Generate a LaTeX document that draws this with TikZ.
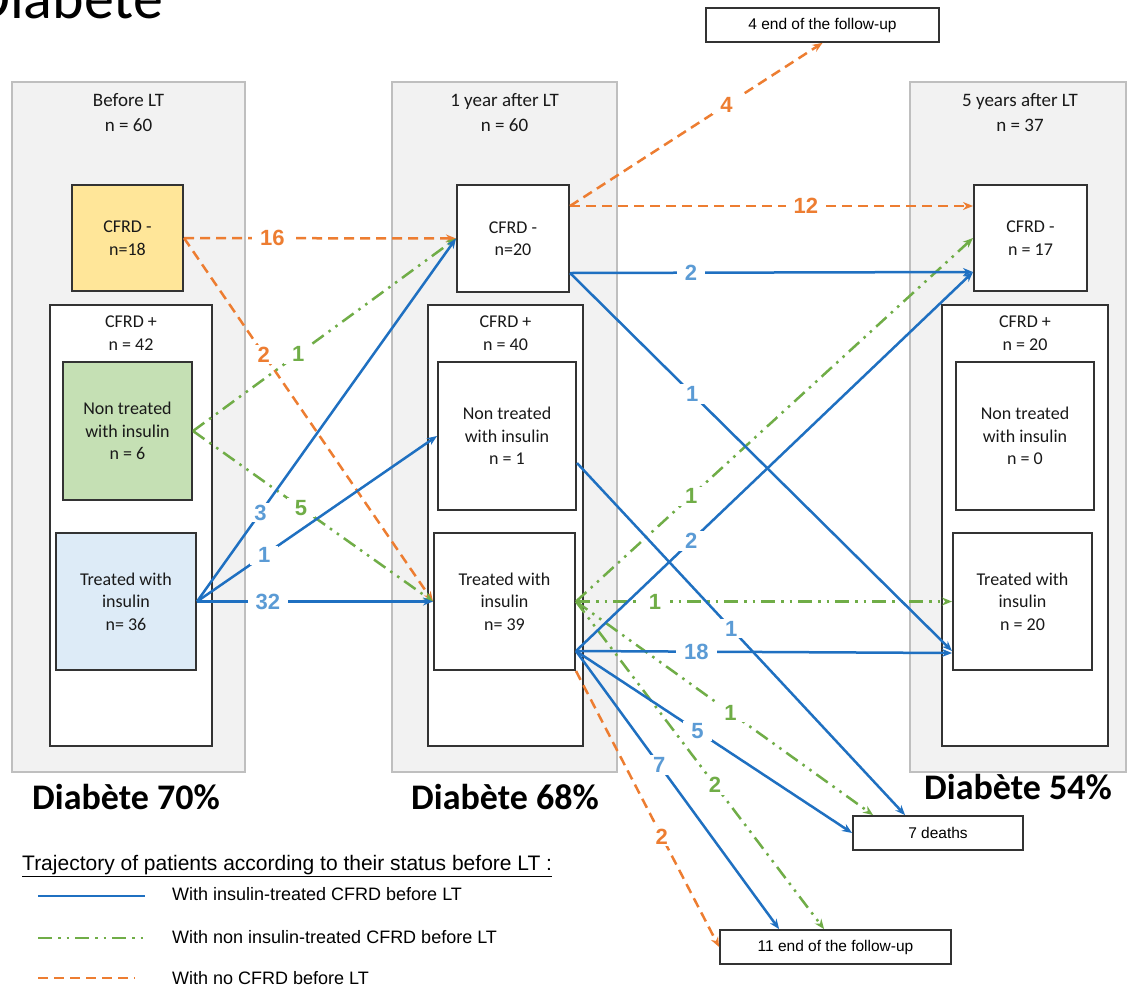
\documentclass[tikz,border=0pt]{standalone}
\usepackage{fontspec}
\setmainfont{Carlito}
\newfontfamily\arial{Liberation Sans}
\usetikzlibrary{arrows.meta,positioning}

\definecolor{colgray}{HTML}{F2F2F2}
\definecolor{colline}{HTML}{BFBFBF}
\definecolor{boxline}{HTML}{333333}
\definecolor{cfrdneg}{HTML}{FFE699}
\definecolor{nontr}{HTML}{C5E0B4}
\definecolor{treat}{HTML}{DDEBF7}
\definecolor{insblue}{HTML}{1F70C1}
\definecolor{numblue}{HTML}{5B9BD5}
\definecolor{nongreen}{HTML}{70AD47}
\definecolor{noorange}{HTML}{ED7D31}

\tikzset{
  colbox/.style={draw=colline, fill=colgray, line width=1.5pt, inner sep=0pt},
  grpbox/.style={draw=boxline, fill=white, line width=2pt, inner sep=0pt},
  catbox/.style={draw=boxline, line width=2pt, inner sep=0pt, align=center,
    text=black!90, font=\fontsize{18}{22.5}\selectfont},
  outbox/.style={draw=boxline, fill=white, line width=1.8pt, inner sep=0pt,
    font=\arial\fontsize{15.5}{18}\selectfont},
  hdr/.style={align=center, inner sep=0pt, text=black!90},
  diab/.style={font=\bfseries\fontsize{36}{40}\selectfont},
  insl/.style={draw=insblue, line width=2.5pt, -{Stealth[length=10pt,width=8pt]}},
  noninsl/.style={draw=nongreen, line width=2.5pt,
    dash pattern=on 14pt off 6pt on 2.5pt off 6pt on 2.5pt off 6pt,
    -{Stealth[length=10pt,width=8pt]}},
  nocfrd/.style={draw=noorange, line width=2.5pt, dash pattern=on 10pt off 6pt,
    -{Stealth[length=10pt,width=8pt]}},
  num/.style={fill=white, inner xsep=8pt, inner ysep=2pt, font=\arial\bfseries\fontsize{22}{22}\selectfont},
  numb/.style={num, text=numblue},
  numg/.style={num, text=nongreen},
  numo/.style={num, text=noorange},
  leg/.style={anchor=west, inner sep=0pt, font=\arial\fontsize{18}{20}\selectfont}
}

\begin{document}
\begin{tikzpicture}[x=1pt,y=-1pt]
	\useasboundingbox[fill=white] (0,0) rectangle (1128,986);

	\begin{scope}
		\clip (0,0) rectangle (1128,986);
		\node[anchor=base west, inner sep=0pt, font=\fontsize{60}{60}\selectfont] (ttl) at (-27,18) {Diabete};
	\end{scope}

	% columns
	\node[colbox, minimum width=233pt, minimum height=690pt] (g1) at (128.5,427) {};
	\node[colbox, minimum width=225pt, minimum height=690pt] (g2) at (504.5,427) {};
	\node[colbox, minimum width=216pt, minimum height=690pt] (g3) at (1018,427) {};

	\node[hdr, font=\fontsize{19}{25}\selectfont] (h1) at (128.5,112.5) {Before LT\\n = 60};
	\node[hdr, font=\fontsize{19}{25}\selectfont] (h2) at (504.5,112.5) {1 year after LT\\n = 60};
	\node[hdr, font=\fontsize{19}{25}\selectfont] (h3) at (1020,112.5) {5 years after LT\\n = 37};

	% before LT
	\node[catbox, fill=cfrdneg, minimum width=111pt, minimum height=106pt] (m1) at (127.5,238) {CFRD -\\n=18};
	\node[grpbox, minimum width=162pt, minimum height=441pt] (p1) at (131,525.5) {};
	\node[hdr, font=\fontsize{18}{23}\selectfont] (c1) at (131,333.5) {CFRD +\\n = 42};
	\node[catbox, fill=nontr, minimum width=129pt, minimum height=138pt] (nt1) at (127.5,431) {Non treated\\with insulin\\n = 6};
	\node[catbox, fill=treat, minimum width=140pt, minimum height=137pt] (tr1) at (126,601.5) {Treated with\\insulin\\n= 36};

	% 1 year after LT
	\node[catbox, fill=white, minimum width=112pt, minimum height=107pt] (m2) at (513,238.5) {CFRD -\\n=20};
	\node[grpbox, minimum width=155pt, minimum height=441pt] (p2) at (505.5,525.5) {};
	\node[hdr, font=\fontsize{18}{23}\selectfont] (c2) at (505.5,333.5) {CFRD +\\n = 40};
	\node[catbox, fill=white, minimum width=138pt, minimum height=148pt] (nt2) at (507,436) {Non treated\\with insulin\\n = 1};
	\node[catbox, fill=white, minimum width=141pt, minimum height=137pt] (tr2) at (504.5,601.5) {Treated with\\insulin\\n= 39};

	% 5 years after LT
	\node[catbox, fill=white, minimum width=113pt, minimum height=106pt] (m3) at (1030.5,238) {CFRD -\\n = 17};
	\node[grpbox, minimum width=166pt, minimum height=441pt] (p3) at (1025,525.5) {};
	\node[hdr, font=\fontsize{18}{23}\selectfont] (c3) at (1025,333.5) {CFRD +\\n = 20};
	\node[catbox, fill=white, minimum width=138pt, minimum height=148pt] (nt3) at (1025,436) {Non treated\\with insulin\\n = 0};
	\node[catbox, fill=white, minimum width=139pt, minimum height=137pt] (tr3) at (1022.5,601.5) {Treated with\\insulin\\n = 20};

	\node[diab] (d1) at (126,797) {Diabète 70\%};
	\node[diab] (d2) at (505,797) {Diabète 68\%};
	\node[diab] (d3) at (1018,787) {Diabète 54\%};

	% outcomes
	\node[outbox, minimum width=233pt, minimum height=34pt] (end4) at (822.5,25) {4 end of the follow-up};
	\node[outbox, minimum width=170pt, minimum height=34pt] (deaths) at (938,833) {7 deaths};
	\node[outbox, minimum width=231pt, minimum height=34pt] (end11) at (835.5,947) {11 end of the follow-up};

	% no CFRD before LT
	\draw[nocfrd] (m1.east) -- node[pos=.325,numo] {16} (m2.west);
	\draw[nocfrd] (m1.east) -- node[pos=.32,numo] {2} (tr2.west);
	\draw[nocfrd] ([yshift=-22pt]m2.north east) -- node[pos=.585,numo] {12} ([yshift=-22pt]m3.north west);
	\draw[nocfrd] ([yshift=-22pt]m2.north east) -- node[pos=.62,numo] {4} (end4.south);
	\draw[nocfrd] (tr2.south east) -- node[pos=.6,numo] {2} (end11.west);

	% non insulin-treated CFRD before LT
	\draw[noninsl] (nt1.east) -- node[pos=.4,numg] {1} (m2.west);
	\draw[noninsl] (nt1.east) -- node[pos=.45,numg] {5} (tr2.west);
	\draw[noninsl] (tr2.east) -- node[pos=.29,numg] {1} (m3.west);
	\draw[noninsl] (tr2.east) -- node[pos=.21,numg] {1} (tr3.west);
	\draw[noninsl] (tr2.east) -- node[pos=.52,numg] {1} ([xshift=21pt]deaths.north west);
	\draw[noninsl] (tr2.east) -- node[pos=.56,numg] {2} ([xshift=105pt]end11.north west);

	% insulin-treated CFRD before LT
	\draw[insl] (tr1.east) -- node[pos=.245,numb] {3} (m2.west);
	\draw[insl] (tr1.east) -- node[pos=.28,numb] {1} (nt2.west);
	\draw[insl] (tr1.east) -- node[pos=.3,numb] {32} (tr2.west);
	\draw[insl] ([yshift=20pt]m2.south east) -- node[pos=.3,numb] {2} ([yshift=20pt]m3.south west);
	\draw[insl] ([yshift=20pt]m2.south east) -- node[pos=.32,numb] {1} ([yshift=20pt]tr3.south west);
	\draw[insl] ([yshift=48pt]nt2.south east) -- node[pos=.47,numb] {1} ([xshift=53pt]deaths.north west);
	\draw[insl] ([yshift=20pt]tr2.south east) -- node[pos=.29,numb] {2} ([yshift=20pt]m3.south west);
	\draw[insl] ([yshift=20pt]tr2.south east) -- node[pos=.32,numb] {18} ([yshift=18pt]tr3.south west);
	\draw[insl] ([yshift=20pt]tr2.south east) -- node[pos=.44,numb] {5} (deaths.west);
	\draw[insl] ([yshift=20pt]tr2.south east) -- node[pos=.41,numb] {7} ([xshift=60pt]end11.north west);

	% legend
	\node[leg, font=\arial\fontsize{21}{22}\selectfont] (lt) at (22,866) {\underline{Trajectory of patients according to their status before LT :}};
	\draw[insl, -] (38,896) -- (145,896);
	\node[leg] (l1) at (172,894) {With insulin-treated CFRD before LT};
	\draw[noninsl, -] (38,938) -- (145,938);
	\node[leg] (l2) at (172,937) {With non insulin-treated CFRD before LT};
	\draw[nocfrd, -] (38,978) -- (135,978);
	\node[leg] (l3) at (172,978) {With no CFRD before LT};
\end{tikzpicture}
\end{document}
